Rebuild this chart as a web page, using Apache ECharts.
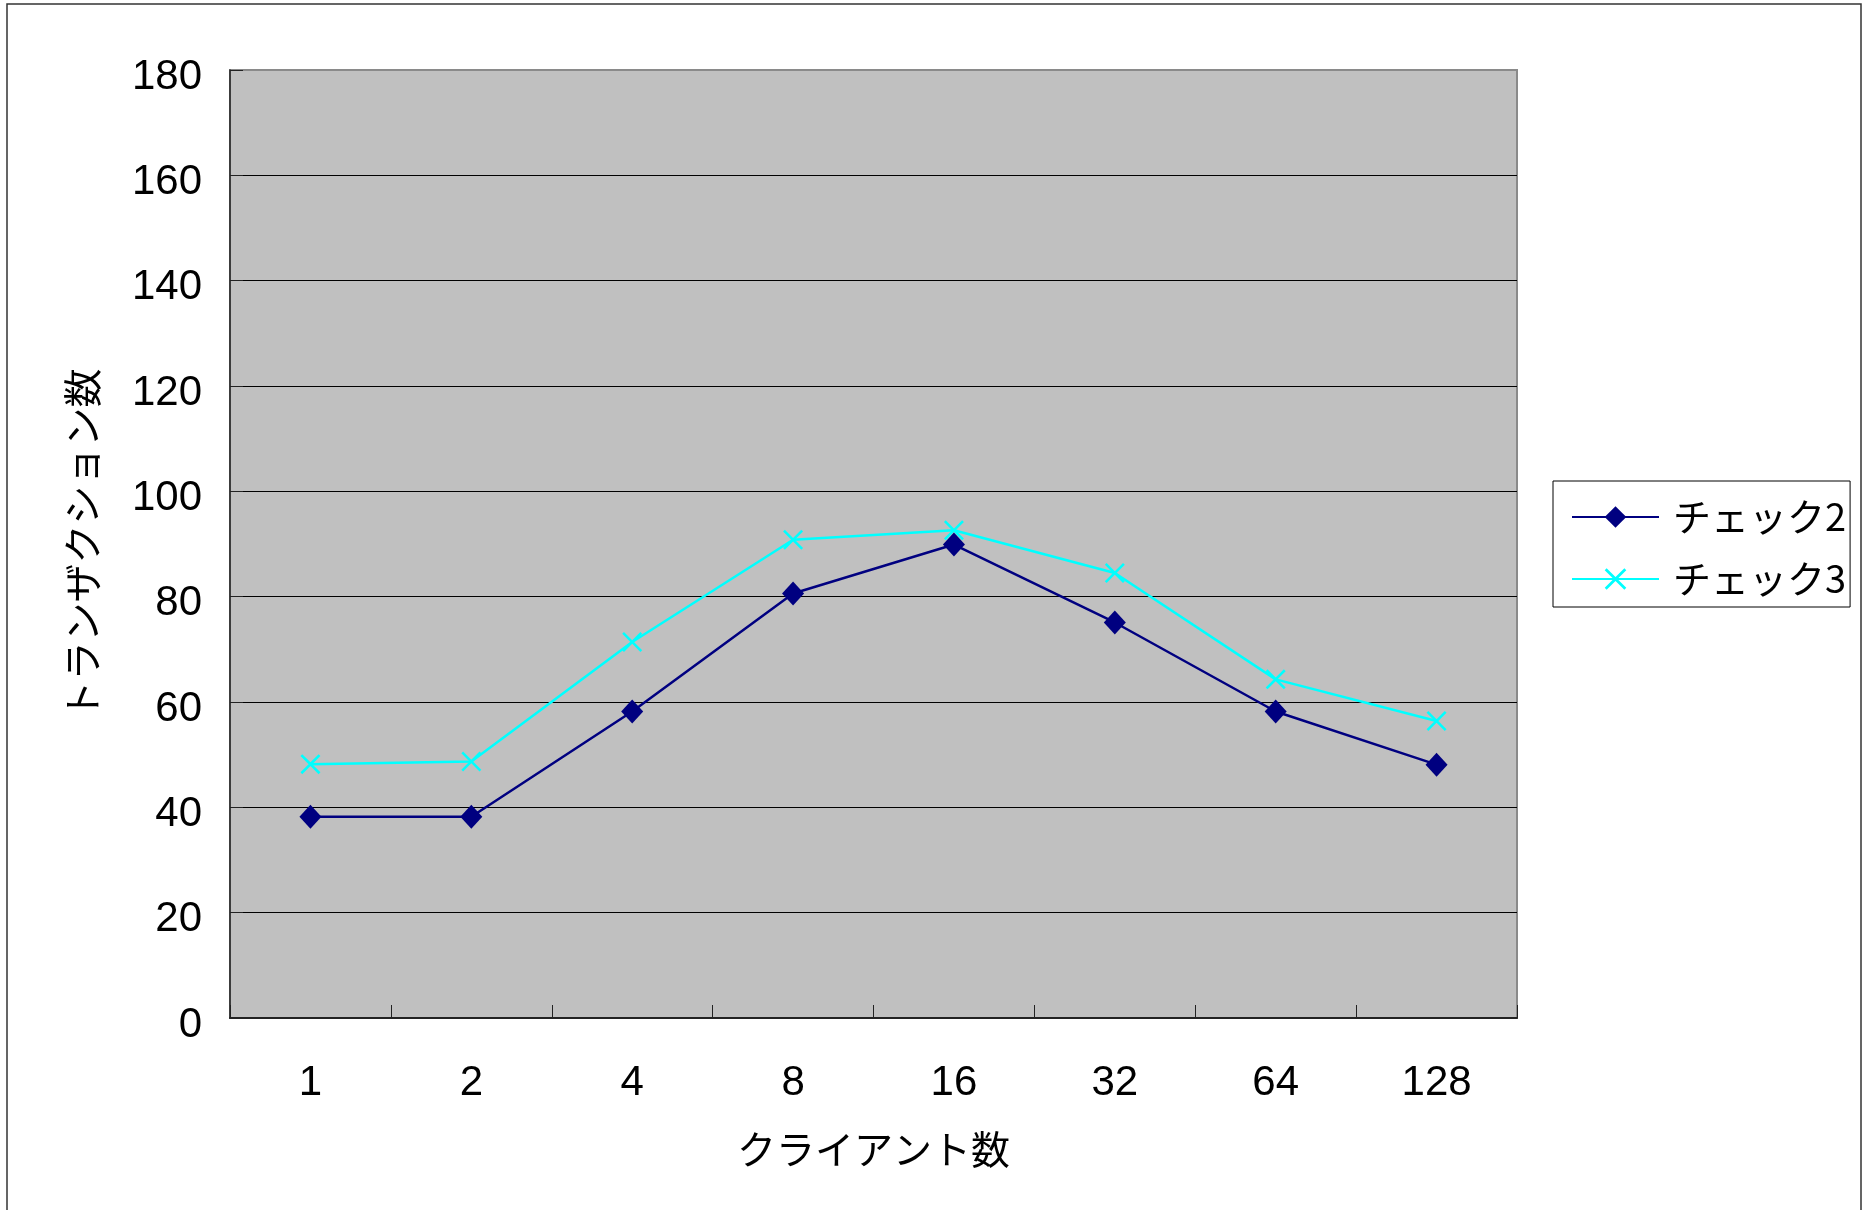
<!DOCTYPE html>
<html>
<head>
<meta charset="utf-8">
<script src="https://cdn.jsdelivr.net/npm/echarts@6/dist/echarts.min.js"></script>
<style>
  html, body { margin: 0; padding: 0; background: #fff; }
  #chart { width: 1867px; height: 1210px; }
</style>
</head>
<body>
<div id="chart"></div>
<script>
// Client counts on the x axis
const clients = ['1', '2', '4', '8', '16', '32', '64', '128'];
// Transactions per run for each check
const check2 = [38.2, 38.2, 58.2, 80.6, 89.9, 75.1, 58.2, 48.1];
const check3 = [48.2, 48.7, 71.4, 90.8, 92.6, 84.5, 64.3, 56.4];
const seriesNames = ['チェック2', 'チェック3'];
const xAxisName = 'クライアント数';
const yAxisName = 'トランザクション数';
const yMin = 0, yMax = 180, yStep = 20;

const NUM_FONT = '"Liberation Sans", Arial, sans-serif';
const JP_FONT = '"Noto Sans CJK JP", "Noto Sans", sans-serif';

// "×" marker drawn as a filled cross outline
const CROSS = 'path://M0,9L9,0L50,41L91,0L100,9L59,50L100,91L91,100L50,59L9,100L0,91L41,50Z';

// Split lines: black, except the top edge which sits on the grey frame
const splitColors = [];
for (let v = yMin; v <= yMax; v += yStep) splitColors.push(v === yMax ? '#8a8a8a' : '#000');

const chart = echarts.init(document.getElementById('chart'), null, { renderer: 'canvas' });

chart.setOption({
  backgroundColor: '#fff',
  animation: false,
  graphic: [{
    type: 'rect',
    shape: { x: 7, y: 4, width: 1854, height: 1260 },
    style: { fill: 'none', stroke: '#333', lineWidth: 1.5 },
    silent: true,
    z: -1
  }],
  grid: {
    left: 230, top: 70, right: 350, bottom: 192,
    show: true,
    backgroundColor: '#c0c0c0',
    borderColor: '#8a8a8a',
    borderWidth: 2
  },
  legend: {
    orient: 'vertical',
    left: 1553,
    top: 481,
    padding: [16, 4, 8, 18],
    itemWidth: 87,
    itemHeight: 27,
    itemGap: 22,
    backgroundColor: '#fff',
    borderColor: '#000',
    borderWidth: 1,
    borderRadius: 0,
    textStyle: {
      fontFamily: JP_FONT, fontSize: 38, color: '#000',
      lineHeight: 40, padding: [0, 0, 0, 9]
    },
    data: seriesNames
  },
  xAxis: {
    type: 'category',
    data: clients,
    boundaryGap: true,
    name: xAxisName,
    nameLocation: 'middle',
    nameGap: 112,
    nameTextStyle: { fontFamily: JP_FONT, fontSize: 39, color: '#000' },
    axisLine: { lineStyle: { color: '#222', width: 2 } },
    axisTick: { show: true, inside: true, length: 13, lineStyle: { color: '#222', width: 1 } },
    axisLabel: { fontFamily: NUM_FONT, fontSize: 42, color: '#000', margin: 44 },
    splitLine: { show: false }
  },
  yAxis: {
    type: 'value',
    min: yMin, max: yMax, interval: yStep,
    name: yAxisName,
    nameLocation: 'middle',
    nameRotate: 90,
    nameGap: 128,
    nameTextStyle: { fontFamily: JP_FONT, fontSize: 39, color: '#000' },
    axisLine: { show: true, lineStyle: { color: '#222', width: 1.5 } },
    axisTick: { show: true, inside: true, length: 13, lineStyle: { color: '#222', width: 1 } },
    axisLabel: {
      fontFamily: NUM_FONT, fontSize: 42, color: '#000', margin: 28,
      verticalAlign: 'top', lineHeight: 14
    },
    splitLine: { show: true, lineStyle: { color: splitColors, width: 1.2 } }
  },
  series: [
    {
      name: seriesNames[0],
      type: 'line',
      data: check2,
      symbol: 'diamond',
      symbolSize: [22, 24],
      lineStyle: { color: '#000080', width: 2.5 },
      itemStyle: { color: '#000080', borderWidth: 0 },
      z: 3
    },
    {
      name: seriesNames[1],
      type: 'line',
      data: check3,
      symbol: CROSS,
      symbolSize: 20,
      lineStyle: { color: '#00ffff', width: 2.5 },
      itemStyle: { color: '#00ffff', borderWidth: 0 },
      z: 2
    }
  ]
});
</script>
</body>
</html>
